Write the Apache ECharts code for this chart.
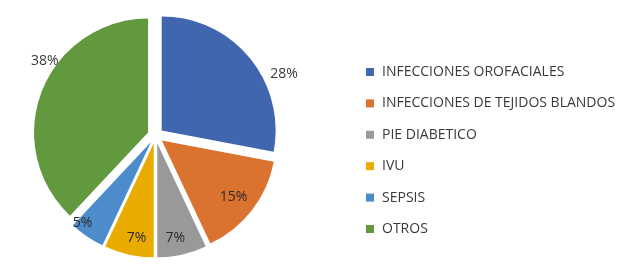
<!DOCTYPE html>
<html><head><meta charset="utf-8">
<script src="https://cdn.jsdelivr.net/npm/echarts@6/dist/echarts.min.js"></script>
<style>html,body{margin:0;padding:0;background:#fff}#c{width:624px;height:266px}</style>
</head><body><div id="c"></div>
<script>
const categories = ['INFECCIONES OROFACIALES','INFECCIONES DE TEJIDOS BLANDOS','PIE DIABETICO','IVU','SEPSIS','OTROS'];
const values = [28, 15, 7, 7, 5, 38];

// styling
const colors = ['#3F66AF','#DA7230','#999999','#E9AB00','#4D8CCB','#62993E'];
const outsideLabels = [true, false, false, false, false, true];
const innerLabels = [false, true, true, true, true, false];
const labelNudge = [[11,20],[-5,-3],[-3,0],[4,0],[-14,1],[27,-27]];

const FONT = '"Open Sans", sans-serif';
const center = [155.5, 135.5];
const R = 114;
const OFF = 8;

function mk(showArr, ghost) {
  return values.map((v, i) => ({
    name: categories[i], value: v, selected: true,
    itemStyle: ghost ? {color: 'rgba(0,0,0,0)', borderWidth: 0} : {color: colors[i]},
    label: {show: showArr[i]}
  }));
}
const nudge = p => ({dx: labelNudge[p.dataIndex][0], dy: labelNudge[p.dataIndex][1]});
const baseSeries = {
  type: 'pie', center: center, startAngle: 90, clockwise: true,
  selectedMode: 'multiple', selectedOffset: OFF, animation: false,
  avoidLabelOverlap: false, labelLayout: nudge
};
const chart = echarts.init(document.getElementById('c'), null, {renderer: 'canvas'});
chart.setOption({
  backgroundColor: '#fff',
  legend: {
    orient: 'vertical', left: 361, top: 60,
    itemWidth: 8, itemHeight: 8, itemGap: 17.4, icon: 'rect',
    textStyle: {fontFamily: FONT, fontSize: 14, color: '#3a3a3a', padding: [0,0,0,3]},
    data: categories
  },
  series: [
    Object.assign({}, baseSeries, {
      name: 'main', radius: [0, R],
      label: {position: 'outside', formatter: '{c}%', fontFamily: FONT, fontSize: 14, color: '#3a3a3a'},
      labelLine: {show: false, length: 6, length2: 0},
      data: mk(outsideLabels, false)
    }),
    Object.assign({}, baseSeries, {
      name: 'ghost', radius: [0, 188], silent: true, legendHoverLink: false,
      label: {position: 'inside', formatter: '{c}%', fontFamily: FONT, fontSize: 14, color: '#2a2a2a'},
      labelLine: {show: false},
      data: mk(innerLabels, true)
    })
  ]
});
</script></body></html>
